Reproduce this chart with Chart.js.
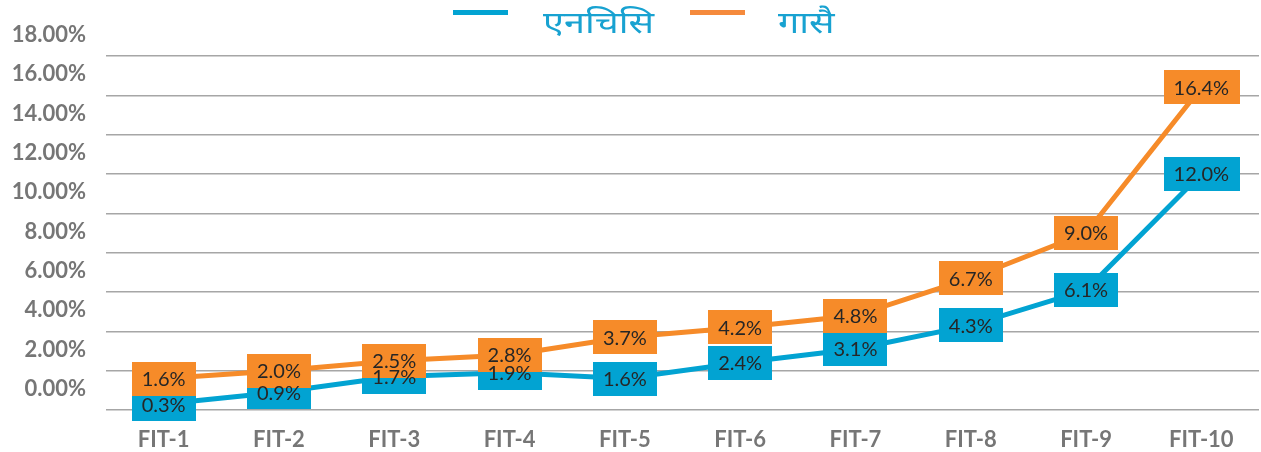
<!DOCTYPE html>
<html>
<head>
<meta charset="utf-8">
<script src="https://cdn.jsdelivr.net/npm/chart.js@4.4.1/dist/chart.umd.min.js"></script>
<style>
html,body{margin:0;padding:0;background:#fff;}
#wrap{width:1261px;height:452px;position:relative;}
</style>
</head>
<body>
<div id="wrap"><canvas id="c" width="1261" height="452"></canvas></div>
<script>
const categories = ['FIT-1','FIT-2','FIT-3','FIT-4','FIT-5','FIT-6','FIT-7','FIT-8','FIT-9','FIT-10'];
const seriesNames = ['एनचिसि','गासै'];
const ncValues = [0.3, 0.9, 1.7, 1.9, 1.6, 2.4, 3.1, 4.3, 6.1, 12.0];
const gasaiValues = [1.6, 2.0, 2.5, 2.8, 3.7, 4.2, 4.8, 6.7, 9.0, 16.4];
const yTicks = [0,2,4,6,8,10,12,14,16,18];

const BLUE = '#02A3D2';
const ORANGE = '#F68B29';

const boxLabels = {
  id: 'boxLabels',
  afterDatasetsDraw(chart) {
    const ctx = chart.ctx;
    ctx.save();
    ctx.font = '20px Lato';
    const texts = [];
    chart.data.datasets.forEach((ds, i) => {
      const meta = chart.getDatasetMeta(i);
      meta.data.forEach((pt, j) => {
        const txt = ds.data[j].toFixed(1) + '%';
        const w = ctx.measureText(txt).width + 20;
        const h = 34;
        ctx.fillStyle = ds.borderColor;
        ctx.fillRect(Math.round(pt.x - w / 2), Math.round(pt.y - h / 2), Math.round(w), h);
        texts.push([txt, pt.x, pt.y]);
      });
    });
    ctx.fillStyle = '#262626';
    ctx.textAlign = 'center';
    ctx.textBaseline = 'middle';
    texts.forEach(t => ctx.fillText(t[0], t[1], t[2] + 1));
    ctx.restore();
  }
};

const topLegend = {
  id: 'topLegend',
  afterDraw(chart) {
    const ctx = chart.ctx;
    const lineColors = [BLUE, '#F58A3C'];
    const lineX = [453, 690];
    const textX = [543, 778];
    chart.data.datasets.forEach((ds, i) => {
      ctx.save();
      ctx.fillStyle = lineColors[i];
      ctx.fillRect(lineX[i], 10, 55, 5);
      ctx.font = '31px "Noto Sans", sans-serif';
      ctx.textBaseline = 'middle';
      ctx.fillStyle = '#18A2D1';
      ctx.translate(textX[i], 24);
      ctx.scale(1.22, 1);
      ctx.fillText(ds.label, 0, 0);
      ctx.restore();
    });
  }
};

new Chart(document.getElementById('c'), {
  type: 'line',
  data: {
    labels: categories,
    datasets: [
      { label: seriesNames[0], data: ncValues, borderColor: BLUE, backgroundColor: BLUE, borderWidth: 5, pointRadius: 0, tension: 0 },
      { label: seriesNames[1], data: gasaiValues, borderColor: ORANGE, backgroundColor: ORANGE, borderWidth: 5, pointRadius: 0, tension: 0 }
    ]
  },
  options: {
    responsive: false,
    animation: false,
    devicePixelRatio: 1,
    layout: { padding: { top: 56, right: 2, left: 0, bottom: 0 } },
    plugins: { legend: { display: false }, tooltip: { enabled: false } },
    scales: {
      x: {
        offset: true,
        grid: { display: false, drawTicks: false },
        border: { display: false },
        afterFit(scale) { scale.height = 42; scale.paddingBottom = 0; },
        ticks: { color: '#767676', font: { family: 'Lato', size: 22, weight: 'bold' }, padding: 17, maxRotation: 0 }
      },
      y: {
        min: 0, max: 18,
        afterBuildTicks(scale) { scale.ticks = yTicks.map(v => ({ value: v })); },
        afterFit(scale) { scale.width = 106; scale.paddingBottom = 0; scale.paddingTop = 0; },
        grid: { color: '#A6A6A6', lineWidth: 1.5, drawTicks: false },
        border: { display: false },
        ticks: {
          color: '#767676', font: { family: 'Lato', size: 22, weight: 'bold' }, padding: 20, labelOffset: -21,
          callback: v => v.toFixed(2) + '%'
        }
      }
    }
  },
  plugins: [boxLabels, topLegend]
});
</script>
</body>
</html>
